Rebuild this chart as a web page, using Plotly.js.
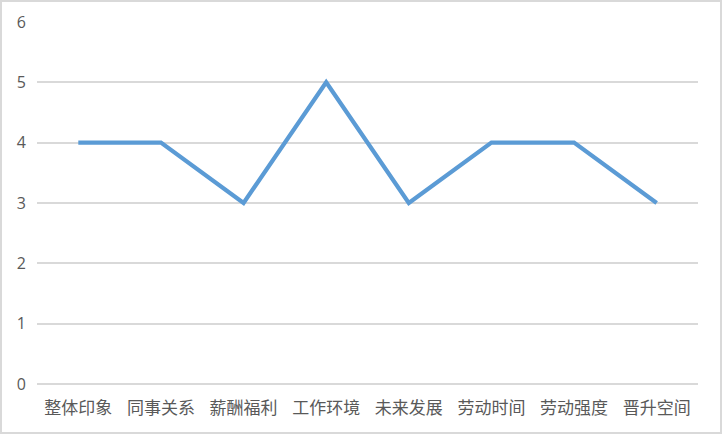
<!DOCTYPE html>
<html>
<head>
<meta charset="utf-8">
<script src="https://cdn.plot.ly/plotly-3.0.1.min.js"></script>
<style>
  html, body { margin: 0; padding: 0; background: #fff; }
  #frame { position: relative; width: 722px; height: 434px; }
  #chart { position: absolute; left: 0; top: 0; width: 722px; height: 434px; }
  #border { position: absolute; left: 0; top: 0; width: 722px; height: 434px; box-sizing: border-box;
            border: 2px solid #d9d9d9; pointer-events: none; }
</style>
</head>
<body>
<div id="frame">
  <div id="chart"></div>
  <div id="border"></div>
</div>
<script>
const categories = ['整体印象', '同事关系', '薪酬福利', '工作环境', '未来发展', '劳动时间', '劳动强度', '晋升空间'];
const scores = [4, 4, 3, 5, 3, 4, 4, 3];
const yTicks = [0, 1, 2, 3, 4, 5, 6];

const trace = {
  x: categories,
  y: scores,
  type: 'scatter',
  mode: 'lines',
  line: { color: '#5b9bd5', width: 4.2 },
  hoverinfo: 'x+y'
};

const layout = {
  width: 722,
  height: 434,
  paper_bgcolor: '#ffffff',
  plot_bgcolor: '#ffffff',
  margin: { l: 37, r: 24, t: 22, b: 50 },
  showlegend: false,
  font: { family: '"Noto Sans CJK SC", "Noto Sans", sans-serif', color: '#595959' },
  xaxis: {
    type: 'category',
    range: [-0.5, categories.length - 0.5],
    showgrid: false,
    zeroline: false,
    showline: false,
    ticks: '',
    ticklabelstandoff: 12,
    tickfont: { size: 17, color: '#595959' },
    fixedrange: true
  },
  yaxis: {
    range: [0, 6],
    tickvals: yTicks,
    showgrid: true,
    gridcolor: '#d9d9d9',
    gridwidth: 2,
    zeroline: true,
    zerolinecolor: '#d9d9d9',
    zerolinewidth: 2,
    showline: false,
    ticks: '',
    ticklabelstandoff: 10,
    tickfont: { size: 16, color: '#595959', family: '"Open Sans", "Noto Sans", sans-serif' },
    fixedrange: true
  }
};

Plotly.newPlot('chart', [trace], layout, { displayModeBar: false, staticPlot: true });
</script>
</body>
</html>
